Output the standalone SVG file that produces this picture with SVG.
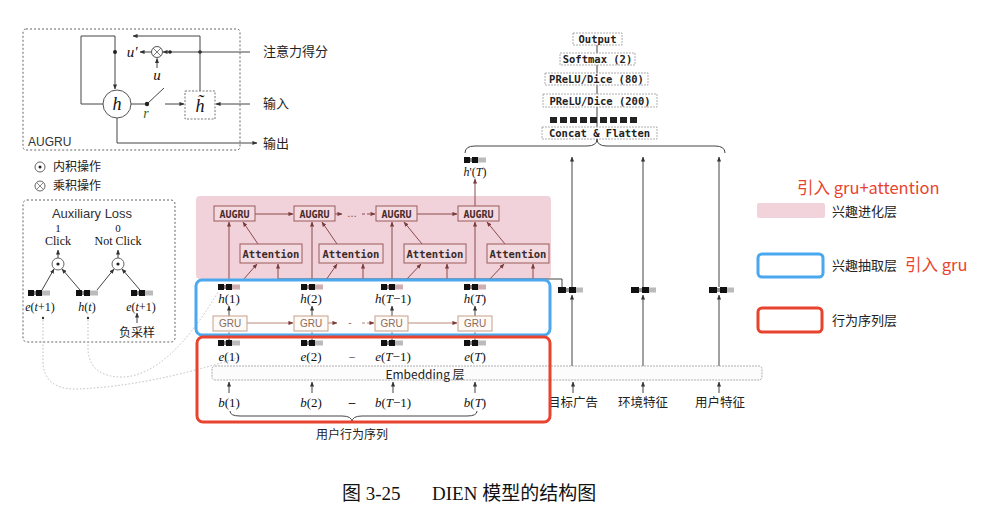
<svg xmlns="http://www.w3.org/2000/svg" width="988" height="511" viewBox="0 0 988 511">
<style>
.cn{font-family:"Noto Sans CJK SC","Noto Sans",sans-serif;fill:#222}
.mono{font-family:"DejaVu Sans Mono","Liberation Mono",monospace;font-weight:bold;fill:#222}
.ser{font-family:"Liberation Serif","Noto Sans CJK SC",serif;fill:#111}
.sans{font-family:"Liberation Sans",Arial,sans-serif;fill:#333}
.ln{fill:none;stroke:#444;stroke-width:1}
.pl{fill:none;stroke:#8a4a4a;stroke-width:1}
.gl{fill:none;stroke:#b88a7a;stroke-width:1}
.fd{fill:none;stroke:#bbb;stroke-width:1;stroke-dasharray:1.5,2}
.it{font-style:italic}
.ob{fill:#fff;stroke:#999;stroke-width:0.8;stroke-dasharray:2,1}
.aug{fill:#f3d9e0;stroke:#9a5a5a;stroke-width:1}
.gru{fill:#fdfaf8;stroke:#c8a08a;stroke-width:1}
</style>
<defs>
<marker id="ar" viewBox="0 0 6 6" refX="5.5" refY="3" markerWidth="5" markerHeight="5" orient="auto" markerUnits="userSpaceOnUse"><path d="M0,0.5 L6,3 L0,5.5z" fill="#333"/></marker>
<marker id="arp" viewBox="0 0 6 6" refX="5.5" refY="3" markerWidth="5" markerHeight="5" orient="auto" markerUnits="userSpaceOnUse"><path d="M0,0.5 L6,3 L0,5.5z" fill="#7a3a3a"/></marker>
<g id="vk"><rect x="0" y="0" width="6" height="6" fill="#111"/><rect x="6" y="1" width="2" height="4" fill="#888"/><rect x="8" y="0" width="6" height="6" fill="#111"/><rect x="14" y="0.5" width="8" height="5" fill="#bbb"/></g>
<g id="vp"><rect x="0" y="0" width="6" height="6" fill="#111"/><rect x="6" y="1" width="2" height="4" fill="#9a8080"/><rect x="8" y="0" width="6" height="6" fill="#111"/><rect x="14" y="0.5" width="8" height="5" fill="#cfaeb2"/></g>
<g id="vw"><rect x="0" y="0" width="8" height="6" fill="#111"/><rect x="8" y="1" width="3" height="4" fill="#999"/><rect x="11" y="0" width="7" height="6" fill="#111"/><rect x="18" y="0.5" width="7" height="5" fill="#bbb"/></g>
</defs>
<rect width="988" height="511" fill="#fff"/>

<g id="augru-cell">
<rect x="23" y="29" width="217" height="121" rx="3" fill="none" stroke="#666" stroke-dasharray="2,2"/>
<text x="28" y="146" class="sans" font-size="12">AUGRU</text>
<path class="ln" d="M103,104 L81,104 L81,36 L115,36 L115,89" marker-end="url(#ar)"/>
<circle cx="115" cy="52" r="2" fill="#222"/>
<text x="132" y="57" class="ser it" font-size="15" text-anchor="middle">u'</text>
<circle cx="157" cy="52" r="5.5" fill="#fff" stroke="#555"/>
<path d="M153.1,48.1 L160.9,55.9 M160.9,48.1 L153.1,55.9" stroke="#555" stroke-width="0.8"/>
<path class="ln" d="M151,52 L140,52" marker-end="url(#ar)"/>
<text x="157" y="80" class="ser it" font-size="15" text-anchor="middle">u</text>
<path class="ln" d="M157,68 L157,58.5" marker-end="url(#ar)"/>
<path class="ln" d="M250,52 L163,52" marker-end="url(#ar)"/>
<circle cx="170" cy="52" r="1.8" fill="#222"/>
<circle cx="200" cy="52" r="1.8" fill="#222"/>
<path class="ln" d="M200,91 L200,36 L133,36" marker-end="url(#ar)"/>
<circle cx="117" cy="104" r="14" fill="#fff" stroke="#555"/>
<text x="117" y="110" class="ser it" font-size="18" text-anchor="middle">h</text>
<path class="ln" d="M131,104 L147,104 M147,104 L164,88"/>
<circle cx="147" cy="104" r="2.2" fill="#222"/>
<text x="146" y="118" class="ser it" font-size="14" text-anchor="middle" style="fill:#2a6a2a">r</text>
<path class="ln" d="M165,104 L184,104" marker-end="url(#ar)"/>
<rect x="185" y="91" width="30" height="28" fill="#fff" stroke="#777" stroke-dasharray="2,1.5"/>
<text x="200" y="112" class="ser it" font-size="18" text-anchor="middle">h&#x303;</text>
<path class="ln" d="M250,104 L216,104" marker-end="url(#ar)"/>
<path class="ln" d="M117,118 L117,143 L257,143" marker-end="url(#ar)"/>
<text x="263" y="56" class="cn" font-size="13">注意力得分</text>
<text x="263" y="108" class="cn" font-size="13">输入</text>
<text x="263" y="148" class="cn" font-size="13">输出</text>
</g>

<g id="ops-legend">
<circle cx="40" cy="167" r="5" fill="#fff" stroke="#666"/>
<circle cx="40" cy="167" r="1.5" fill="#222"/>
<text x="53" y="171" class="cn" font-size="12">内积操作</text>
<circle cx="40" cy="186" r="5" fill="#fff" stroke="#666"/>
<path d="M36.5,182.5 L43.5,189.5 M43.5,182.5 L36.5,189.5" stroke="#666" stroke-width="0.8"/>
<text x="53" y="190" class="cn" font-size="12">乘积操作</text>
</g>

<g id="aux-loss">
<rect x="23" y="200" width="152" height="142" rx="4" fill="none" stroke="#666" stroke-dasharray="2,2"/>
<text x="92" y="218" class="sans" font-size="13" text-anchor="middle">Auxiliary Loss</text>
<text x="58" y="232" class="ser" font-size="11" text-anchor="middle">1</text>
<text x="58" y="245" class="ser" font-size="12" text-anchor="middle">Click</text>
<text x="118" y="232" class="ser" font-size="11" text-anchor="middle">0</text>
<text x="118" y="245" class="ser" font-size="12" text-anchor="middle">Not Click</text>
<circle cx="58" cy="264" r="6" fill="#fff" stroke="#666"/><circle cx="58" cy="264" r="1.6" fill="#222"/>
<circle cx="118" cy="264" r="6" fill="#fff" stroke="#666"/><circle cx="118" cy="264" r="1.6" fill="#222"/>
<path class="ln" d="M58,258 L58,250" marker-end="url(#ar)"/>
<path class="ln" d="M118,258 L118,250" marker-end="url(#ar)"/>
<path class="ln" d="M42,290 L54,269" marker-end="url(#ar)"/>
<path class="ln" d="M80,290 L62,269" marker-end="url(#ar)"/>
<path class="ln" d="M97,290 L114,269" marker-end="url(#ar)"/>
<path class="ln" d="M140,290 L122,269" marker-end="url(#ar)"/>
<use href="#vk" x="28" y="290"/>
<use href="#vk" x="76" y="290"/>
<use href="#vk" x="131" y="290"/>
<text x="40" y="311" class="ser" font-size="12" text-anchor="middle"><tspan class="it">e</tspan>(<tspan class="it">t</tspan>+1)</text>
<text x="87" y="311" class="ser" font-size="12" text-anchor="middle"><tspan class="it">h</tspan>(<tspan class="it">t</tspan>)</text>
<text x="141" y="311" class="ser" font-size="12" text-anchor="middle"><tspan class="it">e</tspan>(<tspan class="it">t</tspan>+1)</text>
<circle cx="43" cy="318" r="1.2" fill="#333"/>
<circle cx="88" cy="318" r="1.2" fill="#333"/>
<path class="ln" d="M137,323 L137,313" marker-end="url(#ar)"/>
<text x="137" y="337" class="cn" font-size="12" text-anchor="middle">负采样</text>
</g>

<g id="interest-evolving-layer">
<rect x="196" y="196" width="355" height="83" rx="4" fill="#f1d2db"/>
</g>

<g id="output-stack">
<path class="ln" d="M597,45 L597,127" stroke="#888"/>
<rect class="ob" x="573" y="33" width="49" height="12"/>
<text x="597.5" y="43" class="mono" font-size="10.5" text-anchor="middle">Output</text>
<rect class="ob" x="560" y="53" width="75" height="12"/>
<text x="597.5" y="63" class="mono" font-size="10.5" text-anchor="middle">Softmax (2)</text>
<rect class="ob" x="545" y="73" width="103" height="12"/>
<text x="596.5" y="83" class="mono" font-size="10.5" text-anchor="middle">PReLU/Dice (80)</text>
<rect class="ob" x="543" y="94" width="114" height="13"/>
<text x="600" y="104.5" class="mono" font-size="10.5" text-anchor="middle">PReLU/Dice (200)</text>
<g fill="#222">
<rect x="550" y="117" width="7" height="6"/><rect x="560" y="117" width="7" height="6"/><rect x="570" y="117" width="7" height="6"/><rect x="580" y="117" width="7" height="6"/><rect x="590" y="117" width="7" height="6"/><rect x="600" y="117" width="7" height="6"/><rect x="610" y="117" width="7" height="6"/><rect x="620" y="117" width="7" height="6"/><rect x="630" y="117" width="7" height="6"/>
</g>
<rect class="ob" x="542" y="127" width="115" height="12"/>
<text x="599.5" y="137" class="mono" font-size="10.5" text-anchor="middle">Concat &amp; Flatten</text>
</g>

<g id="connectors">
<path class="ln" d="M465,153 Q465,146 475,146 L587,146 Q597,146 597,139 Q597,146 607,146 L715,146 Q725,146 725,153"/>
<path class="fd" d="M43,320 L43,362 Q44,390 78,389 Q150,386 240,357"/>
<path class="fd" d="M88,320 L88,350 Q90,378 125,377 Q170,373 218,292"/>
<path class="pl" d="M255,214 L293,214" marker-end="url(#arp)"/>
<path class="pl" d="M335,214 L342,214" marker-end="url(#arp)"/>
<path class="pl" d="M362,214 L375,214" stroke-dasharray="3,2" marker-end="url(#arp)"/>
<path class="pl" d="M417,214 L457,214" marker-end="url(#arp)"/>
<text x="352" y="217" class="sans" font-size="10" text-anchor="middle" style="fill:#7a3a3a">…</text>
<path class="pl" d="M229,279 L229,222" marker-end="url(#arp)"/>
<path class="pl" d="M312,279 L312,222" marker-end="url(#arp)"/>
<path class="pl" d="M392,279 L392,222" marker-end="url(#arp)"/>
<path class="pl" d="M475,279 L475,222" marker-end="url(#arp)"/>
<path class="pl" d="M258,244 L243,222" marker-end="url(#arp)"/>
<path class="pl" d="M337,244 L322,222" marker-end="url(#arp)"/>
<path class="pl" d="M422,244 L404,222" marker-end="url(#arp)"/>
<path class="pl" d="M505,244 L487,222" marker-end="url(#arp)"/>
<path class="pl" d="M243,280 L257,264" marker-end="url(#arp)"/>
<path class="pl" d="M326,280 L337,264" marker-end="url(#arp)"/>
<path class="pl" d="M406,280 L421,264" marker-end="url(#arp)"/>
<path class="pl" d="M489,280 L504,264" marker-end="url(#arp)"/>
<path class="ln" d="M278,279 L560,279 L562,279 L562,287" stroke="#555"/>
<path class="pl" d="M278,279 L278,264" marker-end="url(#arp)"/>
<path class="pl" d="M363,279 L363,264" marker-end="url(#arp)"/>
<path class="pl" d="M447,279 L447,264" marker-end="url(#arp)"/>
<path class="pl" d="M533,279 L533,264" marker-end="url(#arp)"/>
<path class="pl" d="M475,206 L475,179" marker-end="url(#arp)"/>
<path class="ln" d="M572,366 L572,295" marker-end="url(#ar)"/>
<path class="ln" d="M572,287 L572,157" marker-end="url(#ar)"/>
<path class="ln" d="M643,366 L643,295" marker-end="url(#ar)"/>
<path class="ln" d="M643,287 L643,157" marker-end="url(#ar)"/>
<path class="ln" d="M719,366 L719,295" marker-end="url(#ar)"/>
<path class="ln" d="M719,287 L719,157" marker-end="url(#ar)"/>
<path class="ln" d="M573,393 L573,382" marker-end="url(#ar)"/>
<path class="ln" d="M643,393 L643,382" marker-end="url(#ar)"/>
<path class="ln" d="M719,393 L719,382" marker-end="url(#ar)"/>
<path class="gl" d="M247,323 L293,323" marker-end="url(#arp)"/>
<path class="gl" d="M328,323 L337,323" marker-end="url(#arp)"/>
<path class="gl" d="M362,323 L374,323" stroke-dasharray="3,2" marker-end="url(#arp)"/>
<path class="gl" d="M408,323 L457,323" marker-end="url(#arp)"/>
<text x="350" y="326" class="sans" font-size="10" text-anchor="middle" style="fill:#9a6a5a">-</text>
<path class="ln" d="M229,316 L229,306" marker-end="url(#ar)"/>
<path class="ln" d="M312,316 L312,306" marker-end="url(#ar)"/>
<path class="ln" d="M392,316 L392,306" marker-end="url(#ar)"/>
<path class="ln" d="M475,316 L475,306" marker-end="url(#ar)"/>
<path class="ln" d="M229,340 L229,331" stroke-dasharray="1.5,1.5"/>
<path class="ln" d="M312,340 L312,331" stroke-dasharray="1.5,1.5"/>
<path class="ln" d="M392,340 L392,331" stroke-dasharray="1.5,1.5"/>
<path class="ln" d="M475,340 L475,331" stroke-dasharray="1.5,1.5"/>
<path class="ln" d="M229,393 L229,382" marker-end="url(#ar)"/>
<path class="ln" d="M312,393 L312,382" marker-end="url(#ar)"/>
<path class="ln" d="M393,393 L393,382" marker-end="url(#ar)"/>
<path class="ln" d="M475,393 L475,382" marker-end="url(#ar)"/>
<path class="ln" d="M230,411 Q230,416 240,416 L342,416 Q352,416 352,422 Q352,416 362,416 L467,416 Q477,416 477,411"/>
</g>

<g id="augru-1"><rect class="aug" x="214" y="206" width="41" height="15"/><text x="234.5" y="217.5" class="mono" font-size="10" text-anchor="middle" style="fill:#4a2a2a">AUGRU</text></g>
<g id="augru-2"><rect class="aug" x="294" y="206" width="41" height="15"/><text x="314.5" y="217.5" class="mono" font-size="10" text-anchor="middle" style="fill:#4a2a2a">AUGRU</text></g>
<g id="augru-3"><rect class="aug" x="376" y="206" width="41" height="15"/><text x="396.5" y="217.5" class="mono" font-size="10" text-anchor="middle" style="fill:#4a2a2a">AUGRU</text></g>
<g id="augru-4"><rect class="aug" x="458" y="206" width="41" height="15"/><text x="478.5" y="217.5" class="mono" font-size="10" text-anchor="middle" style="fill:#4a2a2a">AUGRU</text></g>
<g id="attention-1"><rect class="aug" x="240" y="244" width="62" height="19"/><text x="271" y="257.5" class="mono" font-size="10.5" text-anchor="middle" style="fill:#3a2a2a">Attention</text></g>
<g id="attention-2"><rect class="aug" x="319" y="244" width="64" height="19"/><text x="351" y="257.5" class="mono" font-size="10.5" text-anchor="middle" style="fill:#3a2a2a">Attention</text></g>
<g id="attention-3"><rect class="aug" x="404" y="244" width="62" height="19"/><text x="435" y="257.5" class="mono" font-size="10.5" text-anchor="middle" style="fill:#3a2a2a">Attention</text></g>
<g id="attention-4"><rect class="aug" x="487" y="244" width="62" height="19"/><text x="518" y="257.5" class="mono" font-size="10.5" text-anchor="middle" style="fill:#3a2a2a">Attention</text></g>

<g id="h-prime-T">
<use href="#vk" x="464" y="157"/>
<text x="475" y="176" class="ser" font-size="12" text-anchor="middle"><tspan class="it">h</tspan>'(<tspan class="it">T</tspan>)</text>
</g>

<g id="h-states">
<use href="#vp" x="218" y="284"/><use href="#vp" x="301" y="284"/><use href="#vp" x="381" y="284"/><use href="#vp" x="464" y="284"/>
<text x="229" y="303" class="ser" font-size="13" text-anchor="middle"><tspan class="it">h</tspan>(1)</text>
<text x="311" y="303" class="ser" font-size="13" text-anchor="middle"><tspan class="it">h</tspan>(2)</text>
<text x="393" y="303" class="ser" font-size="13" text-anchor="middle"><tspan class="it">h</tspan>(<tspan class="it">T</tspan>−1)</text>
<text x="475" y="303" class="ser" font-size="13" text-anchor="middle"><tspan class="it">h</tspan>(<tspan class="it">T</tspan>)</text>
</g>
<g id="gru-1"><rect class="gru" x="213" y="316" width="34" height="15"/><text x="230" y="327" class="sans" font-size="10" text-anchor="middle" style="fill:#8a6a5a">GRU</text></g>
<g id="gru-2"><rect class="gru" x="294" y="316" width="34" height="15"/><text x="311" y="327" class="sans" font-size="10" text-anchor="middle" style="fill:#8a6a5a">GRU</text></g>
<g id="gru-3"><rect class="gru" x="375" y="316" width="33" height="15"/><text x="391.5" y="327" class="sans" font-size="10" text-anchor="middle" style="fill:#8a6a5a">GRU</text></g>
<g id="gru-4"><rect class="gru" x="458" y="316" width="34" height="15"/><text x="475" y="327" class="sans" font-size="10" text-anchor="middle" style="fill:#8a6a5a">GRU</text></g>

<g id="e-states">
<use href="#vk" x="218" y="340"/><use href="#vk" x="301" y="340"/><use href="#vk" x="381" y="340"/><use href="#vk" x="464" y="340"/>
<text x="229" y="361" class="ser" font-size="13" text-anchor="middle"><tspan class="it">e</tspan>(1)</text>
<text x="311" y="361" class="ser" font-size="13" text-anchor="middle"><tspan class="it">e</tspan>(2)</text>
<text x="352" y="360" class="ser" font-size="11" text-anchor="middle">–</text>
<text x="393" y="361" class="ser" font-size="13" text-anchor="middle"><tspan class="it">e</tspan>(<tspan class="it">T</tspan>−1)</text>
<text x="475" y="361" class="ser" font-size="13" text-anchor="middle"><tspan class="it">e</tspan>(<tspan class="it">T</tspan>)</text>
</g>
<g id="embedding-layer">
<rect x="212" y="366" width="550" height="14" rx="3" fill="#fcfcfc" stroke="#999" stroke-width="0.8" stroke-dasharray="2,1"/>
<text x="425" y="378.5" class="cn" font-size="12" text-anchor="middle">Embedding 层</text>
</g>
<g id="behaviors">
<text x="229" y="407" class="ser" font-size="13" text-anchor="middle"><tspan class="it">b</tspan>(1)</text>
<text x="311" y="407" class="ser" font-size="13" text-anchor="middle"><tspan class="it">b</tspan>(2)</text>
<text x="352" y="406" class="ser" font-size="13" font-weight="bold" text-anchor="middle">–</text>
<text x="393" y="407" class="ser" font-size="13" text-anchor="middle"><tspan class="it">b</tspan>(<tspan class="it">T</tspan>−1)</text>
<text x="475" y="407" class="ser" font-size="13" text-anchor="middle"><tspan class="it">b</tspan>(<tspan class="it">T</tspan>)</text>
<text x="352" y="439" class="cn" font-size="12" text-anchor="middle">用户行为序列</text>
</g>

<g id="features">
<use href="#vw" x="558" y="287"/><use href="#vw" x="631" y="287"/><use href="#vw" x="709" y="287"/>
<text x="573" y="407" class="cn" font-size="12.5" text-anchor="middle">目标广告</text>
<text x="643" y="407" class="cn" font-size="12.5" text-anchor="middle">环境特征</text>
<text x="720" y="407" class="cn" font-size="12.5" text-anchor="middle">用户特征</text>
</g>

<g id="interest-extractor-frame"><rect x="196" y="280" width="354" height="55" rx="6" fill="none" stroke="#4aa8ef" stroke-width="3"/></g>
<g id="behavior-frame"><rect x="197" y="337" width="353" height="85" rx="6" fill="none" stroke="#e8432e" stroke-width="3"/></g>

<g id="legend">
<text x="797" y="194" class="cn" font-size="16.5" style="fill:#e8432e">引入 gru+attention</text>
<rect x="757" y="203" width="68" height="15" rx="2" fill="#f2d3dc"/>
<text x="832" y="216" class="cn" font-size="13">兴趣进化层</text>
<rect x="758" y="254" width="65" height="23" rx="4" fill="none" stroke="#4aa8ef" stroke-width="3"/>
<text x="832" y="270" class="cn" font-size="13">兴趣抽取层</text>
<text x="905" y="271" class="cn" font-size="16.5" style="fill:#e8432e">引入 gru</text>
<rect x="758" y="308" width="64" height="24" rx="4" fill="none" stroke="#e8432e" stroke-width="3"/>
<text x="832" y="325" class="cn" font-size="13">行为序列层</text>
</g>

<g id="caption">
<text x="342" y="500" class="ser" font-size="19">图 3-25</text>
<text x="432" y="500" class="ser" font-size="19">DIEN 模型的结构图</text>
</g>
</svg>
